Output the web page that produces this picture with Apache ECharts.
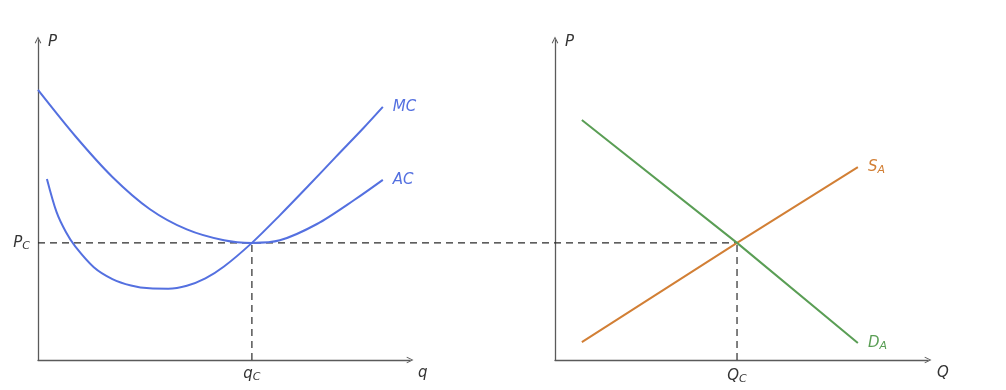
<!DOCTYPE html>
<html><head><meta charset="utf-8">
<script src="https://cdn.jsdelivr.net/npm/echarts@6/dist/echarts.min.js"></script>
<style>html,body{margin:0;padding:0;background:#fff}#c{width:1006px;height:390px}</style>
</head><body><div id="c"></div>
<script>
// Left panel: firm cost curves (q, P)
const acData = [[0,8.44],[1,7.0],[2,5.72],[3,4.72],[4,4.08],[5,3.74],[5.75,3.66],[6.5,3.74],[7.5,4.25],[8.5,5.0],[9.27,5.63]];
const mcData = [[0.24,5.66],[0.5,4.62],[0.75,4.0],[1,3.55],[1.5,2.9],[2,2.53],[2.5,2.33],[3,2.24],[3.5,2.23],[4,2.32],[4.5,2.55],[5,2.92],[5.75,3.66],[6.5,4.52],[7.25,5.42],[8,6.34],[8.75,7.25],[9.27,7.91]];
// Right panel: market supply and demand (Q, P)
const supplyData = [[0.72,0.56],[4.88,3.66],[8.12,6.03]];
const demandData = [[0.72,7.5],[4.88,3.66],[8.12,0.53]];
const qC = 5.75, QC = 4.88, PC = 3.66;

const chevron = 'path://M0,10 L5,0 L10,10 L8.6,10.6 L5,3 L1.4,10.6 Z';
const FONT = 'DejaVu Sans';
const txt = '#333';
const axisColor = '#5a5a5a';
const blue = '#5470e0', orange = '#d27f35', green = '#5a9e55';
const dash = {color:'#2a2a2a', width:1.2, type:[7,5]};

function subRich(color){
  return {
    v:{fontFamily:FONT, fontStyle:'italic', fontSize:15, color:color},
    s:{fontFamily:FONT, fontStyle:'italic', fontSize:11, color:color, padding:[6,0,0,0]}
  };
}
function axisBase(grid, extra){
  return Object.assign({
    gridIndex:grid, type:'value', min:0, max:10,
    axisLine:{show:true, lineStyle:{color:axisColor, width:1.3}, symbol:['none', chevron], symbolSize:[9,7], symbolOffset:[0,0]},
    axisTick:{show:false}, splitLine:{show:false},
    axisLabel:{show:false}
  }, extra);
}
const hiddenAxis = {gridIndex:2, type:'value', min:0, max:10, show:false, splitLine:{show:false}};
const nameStyleY = {fontFamily:FONT, fontStyle:'italic', fontSize:15, color:txt, align:'left', verticalAlign:'middle', padding:[0,0,0,10]};
const nameStyleX = {fontFamily:FONT, fontStyle:'italic', fontSize:15, color:txt, align:'left', verticalAlign:'top', padding:[6,0,0,0]};

function buildOption(hEnd){
  return {
    animation:false,
    backgroundColor:'#fff',
    grid:[
      {left:38, top:40, width:372, height:320},
      {left:555, top:40, width:373, height:320},
      {left:38, top:40, width:890, height:320}
    ],
    xAxis:[
      axisBase(0, {name:'q', nameLocation:'end', nameGap:8, nameTextStyle:nameStyleX,
        axisLabel:{show:true, customValues:[qC], margin:6, formatter:()=>'{v|q}{s|C}', rich:subRich(txt)}}),
      axisBase(1, {name:'Q', nameLocation:'end', nameGap:9, nameTextStyle:nameStyleX,
        axisLabel:{show:true, customValues:[QC], margin:8, formatter:()=>'{v|Q}{s|C}', rich:subRich(txt)}}),
      hiddenAxis
    ],
    yAxis:[
      axisBase(0, {name:'P', nameLocation:'end', nameGap:-2, nameTextStyle:nameStyleY,
        axisLabel:{show:true, customValues:[PC], margin:8, formatter:()=>'{v|P}{s|C}', rich:subRich(txt)}}),
      axisBase(1, {name:'P', nameLocation:'end', nameGap:-2, nameTextStyle:nameStyleY}),
      hiddenAxis
    ],
    series:[
      {id:'hdash', type:'line', xAxisIndex:2, yAxisIndex:2, data:[[0,PC],[hEnd,PC]], showSymbol:false, silent:true, lineStyle:dash, z:1},
      {id:'vdashL', type:'line', xAxisIndex:0, yAxisIndex:0, data:[[qC,0],[qC,PC]], showSymbol:false, silent:true, lineStyle:dash, z:1},
      {id:'vdashR', type:'line', xAxisIndex:1, yAxisIndex:1, data:[[QC,0],[QC,PC]], showSymbol:false, silent:true, lineStyle:dash, z:1},
      {id:'mc', type:'line', xAxisIndex:0, yAxisIndex:0, data:mcData, smooth:0.3, showSymbol:false, lineStyle:{color:blue, width:2}, itemStyle:{color:blue},
        endLabel:{show:true, formatter:'MC', distance:10, fontFamily:FONT, fontStyle:'italic', fontSize:15, color:blue}},
      {id:'ac', type:'line', xAxisIndex:0, yAxisIndex:0, data:acData, smooth:0.3, showSymbol:false, lineStyle:{color:blue, width:2}, itemStyle:{color:blue},
        endLabel:{show:true, formatter:'AC', distance:10, fontFamily:FONT, fontStyle:'italic', fontSize:15, color:blue}},
      {id:'s', type:'line', xAxisIndex:1, yAxisIndex:1, data:supplyData, showSymbol:false, lineStyle:{color:orange, width:2}, itemStyle:{color:orange},
        endLabel:{show:true, formatter:'{v|S}{s|A}', distance:10, rich:subRich(orange)}},
      {id:'d', type:'line', xAxisIndex:1, yAxisIndex:1, data:demandData, showSymbol:false, lineStyle:{color:green, width:2}, itemStyle:{color:green},
        endLabel:{show:true, formatter:'{v|D}{s|A}', distance:10, rich:subRich(green)}}
    ]
  };
}
const chart = echarts.init(document.getElementById('c'), null, {renderer:'canvas'});
chart.setOption(buildOption(0));
// the price line runs across both panels, to the market equilibrium quantity
const px = chart.convertToPixel({gridIndex:1}, [QC, PC]);
const back = chart.convertFromPixel({gridIndex:2}, px);
chart.setOption(buildOption(back[0]), true);
</script>
</body></html>
